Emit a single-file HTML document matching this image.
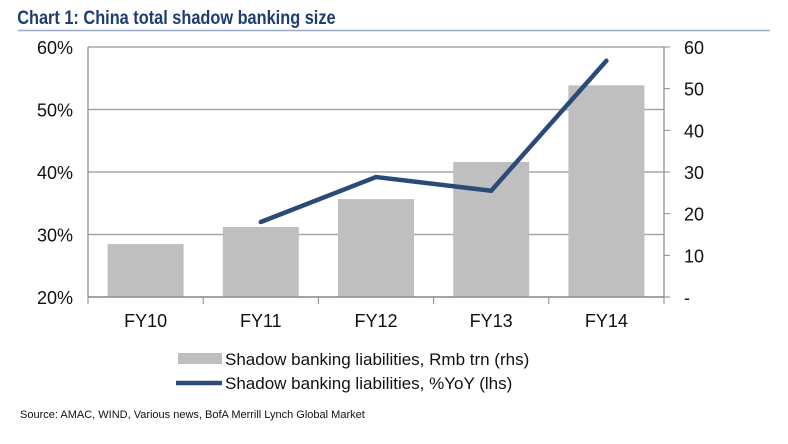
<!DOCTYPE html>
<html><head><meta charset="utf-8"><style>
body{margin:0;background:#fff;width:788px;height:439px;overflow:hidden;font-family:"Liberation Sans",Arial,sans-serif}
</style></head><body>
<svg width="788" height="439" xmlns="http://www.w3.org/2000/svg">
<text x="20" y="24" font-size="19" font-weight="bold" fill="#1f3d73" transform="scale(0.86,1)">Chart 1: China total shadow banking size</text>
<line x1="18" y1="30.5" x2="770" y2="30.5" stroke="#9aaac4" stroke-width="1.5"/>
<g id="grid"></g><g id="bars"></g><g id="axes"></g><g id="line"></g>
<g>
<rect x="178" y="353" width="44" height="11" fill="#bfbfbf"/>
<text x="225" y="365" font-size="17" fill="#111">Shadow banking liabilities, Rmb trn (rhs)</text>
<line x1="176" y1="383" x2="222" y2="383" stroke="#2a4a78" stroke-width="4.5"/>
<text x="225" y="389" font-size="17" fill="#111">Shadow banking liabilities, %YoY (lhs)</text>
</g>
<text x="20" y="418" font-size="11" fill="#111">Source: AMAC, WIND, Various news, BofA Merrill Lynch Global Market</text>
</svg>
<script>
const categories=["FY10","FY11","FY12","FY13","FY14"];
const barValues=[12.7,16.8,23.5,32.4,50.8];
const lineValues=[null,32.0,39.2,37.0,57.8];
const leftTicks=[20,30,40,50,60];
const rightTicks=[0,10,20,30,40,50,60];
const rightTickLabels=["-","10","20","30","40","50","60"];
const NS="http://www.w3.org/2000/svg";
const L=88,R=664,T=47,B=297;
const yL=v=>B-(v-20)/40*(B-T);
const yR=v=>B-v/60*(B-T);
const bw=(R-L)/categories.length;
const xC=i=>L+bw*(i+0.5);
function mk(tag,attrs,parent,txt){const e=document.createElementNS(NS,tag);for(const k in attrs)e.setAttribute(k,attrs[k]);if(txt!==undefined)e.textContent=txt;document.getElementById(parent).appendChild(e);return e;}
leftTicks.forEach(v=>{
 const g=mk("line",{x1:L,x2:R,y1:yL(v),y2:yL(v),stroke:"#a6a6a6","stroke-width":1.5},"grid");
 
 
 const t=mk("text",{x:L-15,y:yL(v)+7,"font-size":18,"text-anchor":"end",fill:"#111"},"axes",v+"%");
 
 
});
rightTicks.forEach((v,i)=>{
 const tk=mk("line",{x1:R,x2:R+6,y1:yR(v),y2:yR(v),stroke:"#888","stroke-width":1},"axes");
 
 
 const t=mk("text",{x:R+20,y:yR(v)+7,"font-size":18,"text-anchor":"start",fill:"#111"},"axes",rightTickLabels[i]);
 
 
});
const a1=mk("line",{x1:L,x2:L,y1:T,y2:B,stroke:"#888","stroke-width":1.2},"axes");


const a2=mk("line",{x1:R,x2:R,y1:T,y2:B,stroke:"#888","stroke-width":1.2},"axes");


const a3=mk("line",{x1:L,x2:R,y1:B,y2:B,stroke:"#888","stroke-width":1.2},"axes");


for(let i=0;i<=categories.length;i++){
 const tk=mk("line",{x1:L+bw*i,x2:L+bw*i,y1:B,y2:B+7,stroke:"#888","stroke-width":1},"axes");
 
 
}
categories.forEach((c,i)=>{
 const b=mk("rect",{x:xC(i)-38,width:76,y:yR(barValues[i]),height:B-yR(barValues[i]),fill:"#bfbfbf"},"bars");
 
 
 const t=mk("text",{x:xC(i),y:B+30,"font-size":18,"text-anchor":"middle",fill:"#111"},"axes",c);
 
 
});
const pts=[];lineValues.forEach((v,i)=>{if(v!==null)pts.push(xC(i)+","+yL(v));});
const pl=mk("polyline",{points:pts.join(" "),fill:"none",stroke:"#2a4a78","stroke-width":4.5,"stroke-linejoin":"miter","stroke-linecap":"round"},"line");


</script>
</body></html>
